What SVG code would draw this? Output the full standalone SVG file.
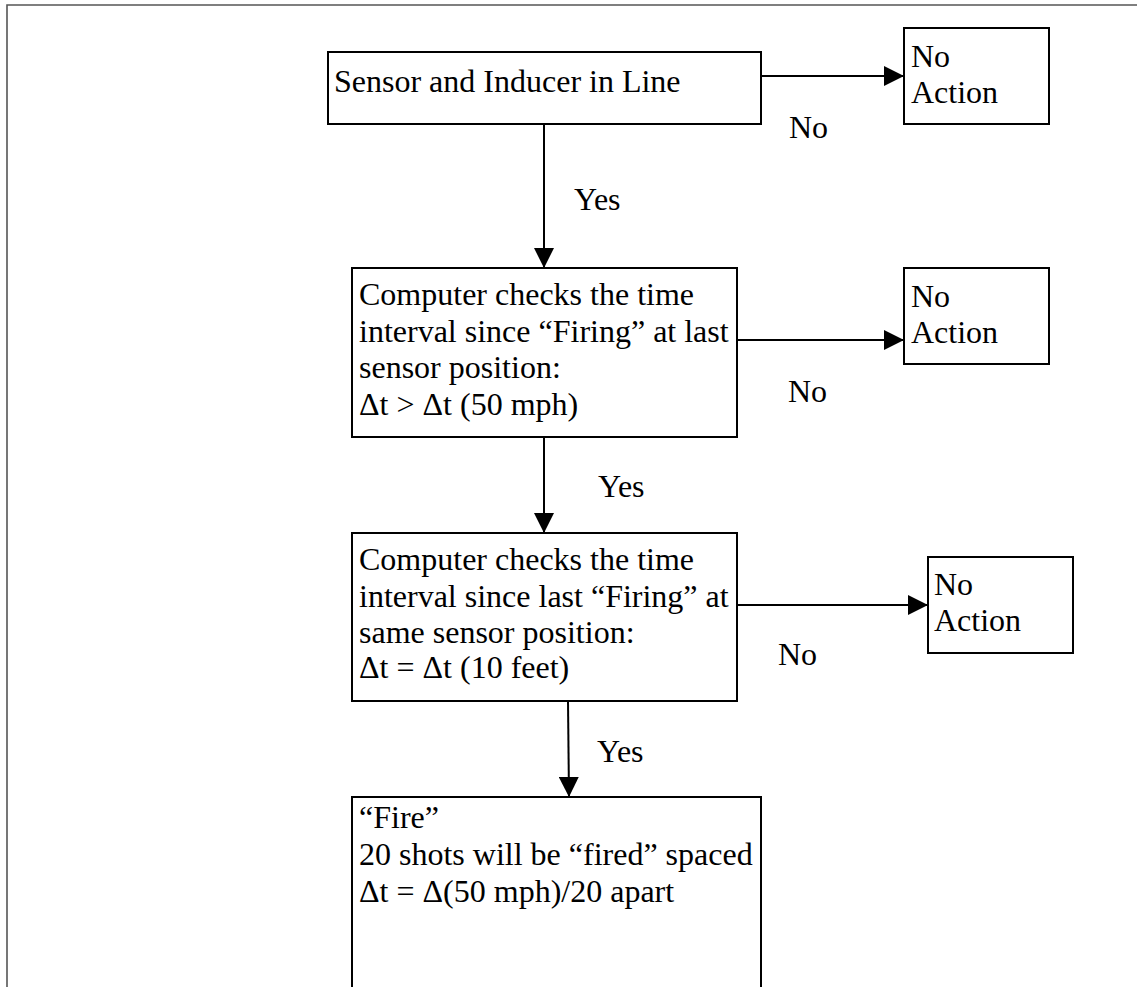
<svg xmlns="http://www.w3.org/2000/svg" width="1137" height="987" viewBox="0 0 1137 987">
<style>
.box{fill:#fff;stroke:#000;stroke-width:2}
.t{font-family:"Liberation Serif","Times New Roman",serif;font-size:32px;fill:#000}
.c{stroke:#000;stroke-width:2;fill:none}
</style>
<defs>
<marker id="ah" markerUnits="userSpaceOnUse" markerWidth="20" markerHeight="20" refX="20" refY="10" orient="auto">
<path d="M0,0 L20,10 L0,20 Z" fill="#000"/>
</marker>
</defs>
<rect width="1137" height="987" fill="#fff"/>
<path d="M7,1000 V5 H1140" fill="none" stroke="#555" stroke-width="1.6"/>
<g id="connectors">
<line class="c" x1="761" y1="76" x2="904" y2="76" marker-end="url(#ah)"/>
<line class="c" x1="544" y1="124" x2="544" y2="268" marker-end="url(#ah)"/>
<line class="c" x1="737" y1="340" x2="904" y2="340" marker-end="url(#ah)"/>
<line class="c" x1="544" y1="437" x2="544" y2="533" marker-end="url(#ah)"/>
<line class="c" x1="737" y1="605" x2="928" y2="605" marker-end="url(#ah)"/>
<line class="c" x1="568" y1="701" x2="569" y2="797" marker-end="url(#ah)"/>
<text class="t" x="789" y="138">No</text>
<text class="t" x="574" y="210">Yes</text>
<text class="t" x="788" y="402">No</text>
<text class="t" x="598" y="497">Yes</text>
<text class="t" x="778" y="665">No</text>
<text class="t" x="597" y="762">Yes</text>
</g>
<g id="n1">
<rect class="box" x="328" y="52" width="433" height="72"/>
<text class="t" x="334" y="92">Sensor and Inducer in Line</text>
</g>
<g id="na1">
<rect class="box" x="904" y="28" width="145" height="96"/>
<text class="t" x="911" y="67">No</text>
<text class="t" x="911" y="103">Action</text>
</g>
<g id="n2">
<rect class="box" x="352" y="268" width="385" height="169"/>
<text class="t" x="359" y="305">Computer checks the time</text>
<text class="t" x="359" y="342">interval since “Firing” at last</text>
<text class="t" x="359" y="378">sensor position:</text>
<text class="t" x="359" y="415">Δt &gt; Δt (50 mph)</text>
</g>
<g id="na2">
<rect class="box" x="904" y="268" width="145" height="96"/>
<text class="t" x="911" y="307">No</text>
<text class="t" x="911" y="343">Action</text>
</g>
<g id="n3">
<rect class="box" x="352" y="533" width="385" height="168"/>
<text class="t" x="359" y="570">Computer checks the time</text>
<text class="t" x="359" y="607">interval since last “Firing” at</text>
<text class="t" x="359" y="643">same sensor position:</text>
<text class="t" x="359" y="678">Δt = Δt (10 feet)</text>
</g>
<g id="na3">
<rect class="box" x="928" y="557" width="145" height="96"/>
<text class="t" x="934" y="595">No</text>
<text class="t" x="934" y="631">Action</text>
</g>
<g id="n4">
<rect class="box" x="352" y="797" width="409" height="220"/>
<text class="t" x="359" y="828">“Fire”</text>
<text class="t" x="359" y="865">20 shots will be “fired” spaced</text>
<text class="t" x="359" y="902">Δt = Δ(50 mph)/20 apart</text>
</g>
</svg>
